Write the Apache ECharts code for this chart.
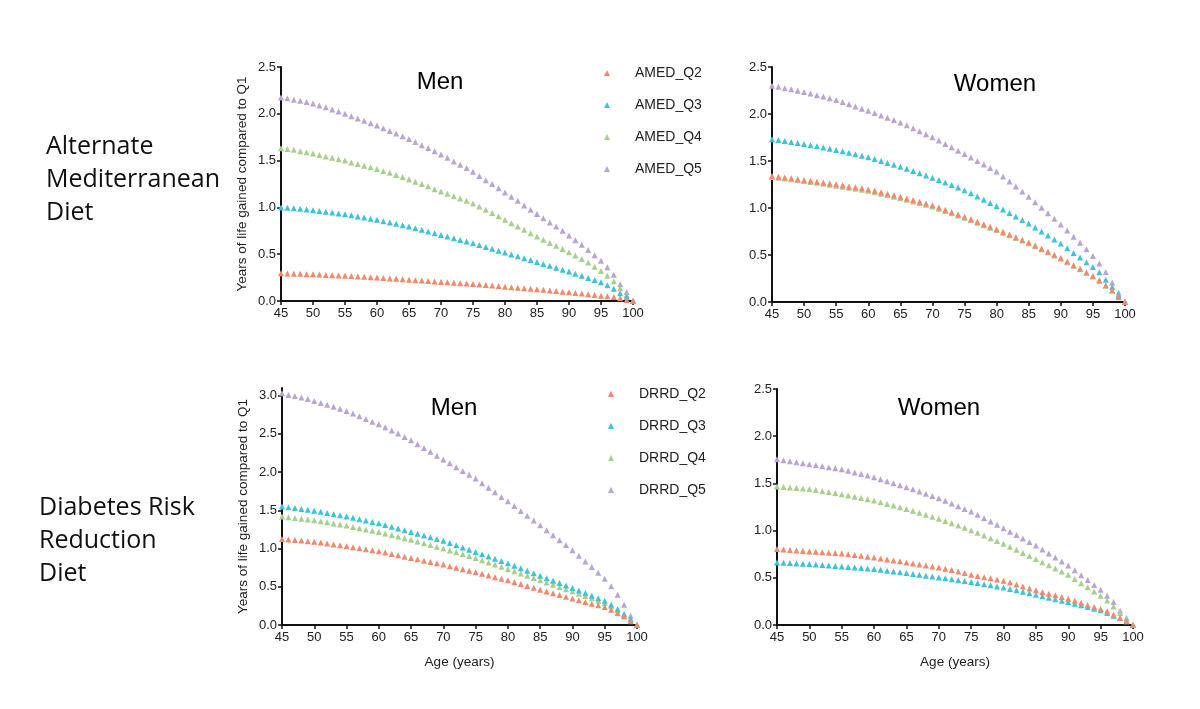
<!DOCTYPE html>
<html><head><meta charset="utf-8">
<script src="https://cdn.jsdelivr.net/npm/echarts@6/dist/echarts.min.js"></script>
<style>html,body{margin:0;padding:0;background:#fff}#c{width:1200px;height:709px}</style>
</head><body><div id="c"></div>
<script>
// Ages 45..100
const ages = [45,46,47,48,49,50,51,52,53,54,55,56,57,58,59,60,61,62,63,64,65,66,67,68,69,70,71,72,73,74,75,76,77,78,79,80,81,82,83,84,85,86,87,88,89,90,91,92,93,94,95,96,97,98,99,100];
const xTicks = [45,50,55,60,65,70,75,80,85,90,95,100];

// Alternate Mediterranean Diet - Men
const amedMenQ2 = [.296,.294,.292,.29,.287,.285,.282,.279,.276,.273,.27,.266,.262,.258,.254,.25,.246,.241,.237,.232,.228,.223,.218,.213,.208,.203,.199,.195,.19,.186,.182,.176,.17,.165,.159,.153,.147,.142,.136,.131,.125,.119,.112,.106,.099,.093,.086,.079,.072,.064,.057,.05,.043,.03,.012,0];
const amedMenQ3 = [1.0,.995,.99,.985,.977,.97,.962,.953,.945,.936,.927,.915,.903,.891,.879,.867,.853,.838,.824,.81,.795,.778,.76,.742,.724,.706,.688,.67,.652,.635,.617,.597,.577,.557,.537,.517,.497,.477,.457,.437,.417,.396,.376,.355,.335,.314,.292,.27,.247,.224,.20,.168,.13,.082,.046,0];
const amedMenQ4 = [1.633,1.625,1.615,1.60,1.59,1.576,1.56,1.545,1.53,1.515,1.50,1.48,1.465,1.445,1.43,1.41,1.39,1.37,1.345,1.325,1.30,1.275,1.25,1.225,1.195,1.17,1.145,1.12,1.095,1.07,1.045,1.01,.975,.94,.905,.867,.83,.795,.76,.725,.688,.655,.62,.59,.555,.52,.485,.45,.41,.365,.32,.27,.21,.135,.064,0];
const amedMenQ5 = [2.175,2.165,2.15,2.14,2.125,2.11,2.09,2.07,2.045,2.025,2.00,1.975,1.95,1.925,1.90,1.875,1.845,1.815,1.79,1.76,1.73,1.70,1.665,1.635,1.60,1.565,1.53,1.49,1.455,1.42,1.38,1.335,1.29,1.25,1.205,1.16,1.115,1.07,1.02,.975,.93,.885,.84,.795,.75,.70,.65,.60,.545,.49,.43,.36,.28,.18,.096,0];

// Alternate Mediterranean Diet - Women
const amedWomenQ2 = [1.34,1.333,1.325,1.316,1.307,1.298,1.289,1.28,1.271,1.261,1.252,1.241,1.23,1.22,1.209,1.198,1.183,1.167,1.151,1.136,1.12,1.102,1.084,1.066,1.048,1.03,1.005,.981,.956,.932,.907,.881,.854,.828,.801,.775,.747,.718,.69,.661,.633,.6,.567,.535,.502,.469,.43,.392,.354,.315,.277,.231,.178,.124,.053,0];
const amedWomenQ3 = [1.732,1.724,1.714,1.703,1.692,1.68,1.668,1.656,1.643,1.63,1.618,1.603,1.587,1.571,1.556,1.54,1.52,1.50,1.48,1.46,1.44,1.417,1.393,1.37,1.346,1.323,1.297,1.27,1.244,1.217,1.19,1.156,1.122,1.088,1.054,1.02,.983,.946,.91,.873,.836,.793,.75,.708,.665,.622,.572,.522,.473,.423,.373,.316,.238,.16,.078,0];
const amedWomenQ4 = [1.33,1.322,1.314,1.305,1.296,1.287,1.277,1.268,1.258,1.248,1.238,1.227,1.216,1.205,1.194,1.183,1.168,1.152,1.137,1.121,1.105,1.088,1.07,1.052,1.034,1.016,.992,.968,.944,.92,.895,.869,.843,.817,.791,.765,.737,.709,.681,.653,.625,.592,.56,.528,.495,.462,.424,.386,.348,.31,.272,.226,.174,.12,.05,0];
const amedWomenQ5 = [2.30,2.29,2.275,2.262,2.248,2.233,2.217,2.20,2.185,2.167,2.15,2.127,2.104,2.08,2.057,2.034,2.01,1.985,1.96,1.935,1.91,1.88,1.848,1.816,1.785,1.753,1.718,1.682,1.646,1.61,1.575,1.538,1.50,1.463,1.425,1.387,1.335,1.283,1.23,1.175,1.12,1.062,1.003,.945,.885,.825,.76,.695,.63,.56,.49,.41,.32,.206,.10,0];

// Diabetes Risk Reduction Diet - Men
const drrdMenQ2 = [1.125,1.118,1.111,1.104,1.097,1.09,1.078,1.066,1.054,1.042,1.03,1.017,1.004,.99,.977,.964,.947,.929,.912,.894,.877,.86,.842,.825,.807,.79,.77,.75,.73,.71,.69,.669,.648,.626,.605,.584,.56,.535,.511,.486,.462,.439,.415,.392,.368,.345,.323,.301,.279,.257,.235,.2,.157,.113,.048,0];
const drrdMenQ3 = [1.55,1.54,1.53,1.518,1.507,1.495,1.48,1.465,1.45,1.435,1.42,1.402,1.384,1.366,1.348,1.33,1.308,1.285,1.263,1.24,1.217,1.194,1.171,1.148,1.126,1.103,1.073,1.044,1.014,.985,.955,.925,.896,.866,.837,.807,.775,.742,.71,.677,.645,.613,.58,.548,.516,.484,.451,.418,.384,.351,.318,.266,.209,.144,.078,0];
const drrdMenQ4 = [1.42,1.411,1.401,1.39,1.38,1.37,1.357,1.343,1.328,1.314,1.30,1.283,1.267,1.25,1.234,1.217,1.197,1.177,1.156,1.136,1.116,1.093,1.069,1.046,1.022,.999,.975,.95,.926,.901,.877,.848,.819,.79,.762,.733,.703,.673,.644,.614,.584,.555,.526,.498,.469,.44,.41,.379,.349,.318,.288,.244,.19,.135,.07,0];
const drrdMenQ5 = [3.03,3.01,2.995,2.975,2.955,2.93,2.905,2.88,2.855,2.83,2.80,2.765,2.73,2.695,2.66,2.625,2.585,2.545,2.505,2.46,2.415,2.365,2.315,2.265,2.215,2.165,2.115,2.065,2.015,1.965,1.915,1.855,1.795,1.735,1.675,1.618,1.555,1.492,1.43,1.367,1.304,1.24,1.175,1.11,1.045,.977,.905,.83,.76,.685,.606,.506,.397,.266,.122,0];

// Diabetes Risk Reduction Diet - Women
const drrdWomenQ2 = [.804,.799,.794,.789,.784,.779,.775,.77,.766,.762,.758,.75,.741,.733,.724,.716,.705,.695,.684,.674,.663,.652,.642,.631,.621,.61,.596,.582,.567,.55,.532,.519,.507,.494,.482,.469,.449,.428,.408,.387,.367,.349,.332,.314,.297,.279,.257,.235,.213,.191,.169,.145,.11,.074,.039,0];
const drrdWomenQ3 = [.663,.66,.656,.652,.649,.645,.64,.635,.63,.625,.62,.614,.609,.603,.598,.592,.584,.575,.567,.558,.55,.541,.532,.522,.513,.504,.494,.484,.475,.465,.455,.444,.432,.421,.409,.398,.382,.367,.351,.336,.32,.305,.289,.274,.258,.243,.225,.208,.19,.173,.155,.127,.099,.074,.039,0];
const drrdWomenQ4 = [1.467,1.462,1.456,1.451,1.445,1.44,1.429,1.418,1.408,1.397,1.386,1.373,1.359,1.346,1.332,1.319,1.301,1.283,1.266,1.248,1.23,1.209,1.188,1.167,1.146,1.125,1.101,1.077,1.053,1.029,1.005,.976,.947,.918,.889,.86,.828,.796,.764,.732,.70,.666,.633,.599,.566,.532,.488,.443,.399,.354,.31,.26,.197,.127,.056,0];
const drrdWomenQ5 = [1.756,1.746,1.735,1.725,1.714,1.703,1.692,1.681,1.671,1.66,1.65,1.633,1.616,1.60,1.583,1.566,1.545,1.524,1.502,1.481,1.46,1.437,1.413,1.39,1.366,1.343,1.315,1.287,1.258,1.23,1.202,1.167,1.132,1.096,1.061,1.026,.989,.953,.916,.88,.843,.801,.758,.716,.673,.631,.58,.528,.477,.425,.374,.31,.243,.152,.074,0];

const amedNames = ['AMED_Q2','AMED_Q3','AMED_Q4','AMED_Q5'];
const drrdNames = ['DRRD_Q2','DRRD_Q3','DRRD_Q4','DRRD_Q5'];
const colors = ['#F4896B','#3DC3DA','#A8D08D','#B9A4D5'];
const yName = 'Years of life gained compared to Q1';
const FONT = 'Liberation Sans, Arial, sans-serif';

const panels = [
  {names: amedNames, data: [amedMenQ2, amedMenQ3, amedMenQ4, amedMenQ5]},
  {names: amedNames, data: [amedWomenQ2, amedWomenQ3, amedWomenQ4, amedWomenQ5]},
  {names: drrdNames, data: [drrdMenQ2, drrdMenQ3, drrdMenQ4, drrdMenQ5]},
  {names: drrdNames, data: [drrdWomenQ2, drrdWomenQ3, drrdWomenQ4, drrdWomenQ5]}
];

const grids = [
  {left: 281, top: 67, width: 352, height: 234},
  {left: 772, top: 67, width: 353, height: 235},
  {left: 282, top: 388, width: 355, height: 237},
  {left: 777, top: 389, width: 356, height: 236}
];
const yMax = [2.5, 2.5, 3.1, 2.5];

const axisLine = {show: true, lineStyle: {color: '#111', width: 2}};
const axisTick = {show: true, length: 4, lineStyle: {color: '#111', width: 1.5}};

const xAxes = grids.map((g, i) => ({
  type: 'value', gridIndex: i, min: 45, max: 100, interval: 5,
  axisLine, axisTick, splitLine: {show: false},
  axisLabel: {color: '#222', fontSize: 13, fontFamily: FONT, margin: 6},
  name: i >= 2 ? 'Age (years)' : '', nameLocation: 'middle', nameGap: 30,
  nameTextStyle: {color: '#222', fontSize: 13.5, fontFamily: FONT}
}));
const yAxes = grids.map((g, i) => ({
  type: 'value', gridIndex: i, min: 0, max: yMax[i], interval: 0.5,
  axisLine, axisTick, splitLine: {show: false},
  axisLabel: {color: '#222', fontSize: 13, fontFamily: FONT, margin: 5, showMaxLabel: i !== 2,
    formatter: v => v.toFixed(1)},
  name: (i === 0 || i === 2) ? yName : '', nameLocation: 'middle', nameGap: 32, nameRotate: 90,
  nameTextStyle: {color: '#222', fontSize: 13.5, fontFamily: FONT}
}));

const series = [];
panels.forEach((p, gi) => {
  p.data.forEach((arr, si) => {
    series.push({
      type: 'scatter', name: p.names[si], xAxisIndex: gi, yAxisIndex: gi,
      symbol: 'triangle', symbolSize: [6, 6],
      itemStyle: {color: colors[si], opacity: 1},
      data: ages.map((a, k) => [a, arr[k]]),
      z: 6 - si
    });
  });
});

const legendBase = {
  orient: 'vertical', icon: 'triangle', itemWidth: 6, itemHeight: 6, itemGap: 16,
  textStyle: {color: '#222', fontSize: 14, fontFamily: FONT, lineHeight: 16, padding: [0, 0, 0, 20]},
  selectedMode: false
};

const titleStyle = {color: '#000', fontSize: 24, fontFamily: FONT, fontWeight: 'normal'};
const rowStyle = {color: '#111', fontSize: 25, fontFamily: 'Open Sans, Noto Sans, sans-serif', fontWeight: 'normal', lineHeight: 33};

const option = {
  animation: false,
  backgroundColor: '#fff',
  title: [
    {text: 'Men', left: 440, top: 82, textAlign: 'center', textVerticalAlign: 'middle', textStyle: titleStyle, padding: 0},
    {text: 'Women', left: 995, top: 84, textAlign: 'center', textVerticalAlign: 'middle', textStyle: titleStyle, padding: 0},
    {text: 'Men', left: 454, top: 408, textAlign: 'center', textVerticalAlign: 'middle', textStyle: titleStyle, padding: 0},
    {text: 'Women', left: 939, top: 408, textAlign: 'center', textVerticalAlign: 'middle', textStyle: titleStyle, padding: 0},
    {text: 'Alternate\nMediterranean\nDiet', left: 46, top: 130, textStyle: rowStyle, padding: 0},
    {text: 'Diabetes Risk\nReduction\nDiet', left: 39, top: 491, textStyle: rowStyle, padding: 0}
  ],
  legend: [
    Object.assign({}, legendBase, {data: amedNames, left: 599, top: 60}),
    Object.assign({}, legendBase, {data: drrdNames, left: 603, top: 381})
  ],
  grid: grids,
  xAxis: xAxes,
  yAxis: yAxes,
  series
};

const chart = echarts.init(document.getElementById('c'));
chart.setOption(option);
</script></body></html>
